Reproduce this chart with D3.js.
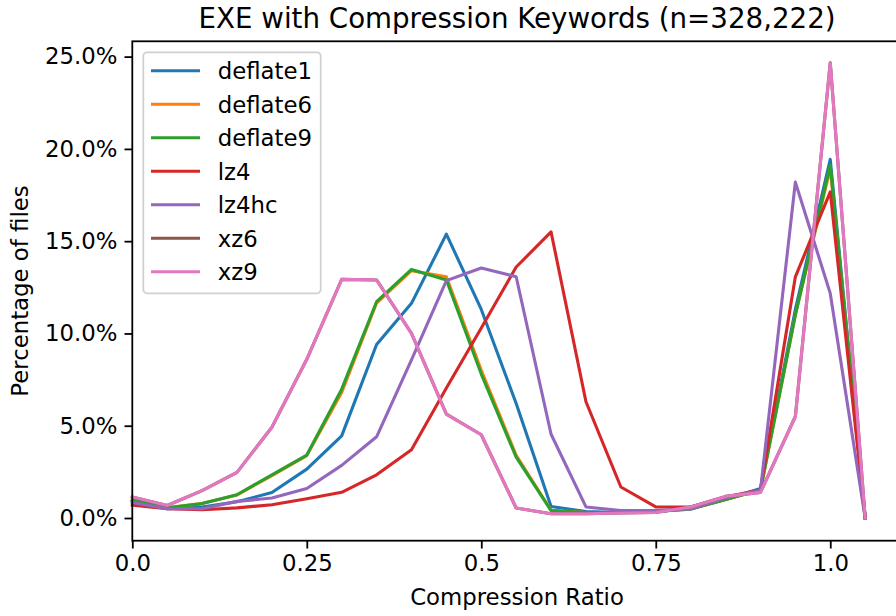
<!DOCTYPE html>
<html>
<head>
<meta charset="utf-8">
<script src="https://cdn.jsdelivr.net/npm/d3@7"></script>
<style>
  html, body { margin: 0; padding: 0; background: #fff; overflow: hidden; }
  svg { display: block; font-family: "DejaVu Sans", sans-serif; }
</style>
</head>
<body>
<svg id="chart" width="896" height="616"></svg>
<script>
// Compression ratio bins (0.00 .. 1.05, step 0.05)
const ratios = [0, 0.05, 0.1, 0.15, 0.2, 0.25, 0.3, 0.35, 0.4, 0.45, 0.5,
                0.55, 0.6, 0.65, 0.7, 0.75, 0.8, 0.85, 0.9, 0.95, 1.0, 1.05];

// Percentage of files per bin, one array per codec
const deflate1 = [0.92, 0.5, 0.6, 0.88, 1.38, 2.65, 4.45, 9.4, 11.63, 15.38, 11.3,
                  6.2, 0.62, 0.35, 0.3, 0.35, 0.48, 1.0, 1.6, 11.3, 19.43, 0];
const deflate6 = [0.97, 0.55, 0.78, 1.25, 2.3, 3.38, 6.8, 11.65, 13.4, 13.07, 8.0,
                  3.4, 0.42, 0.3, 0.3, 0.35, 0.5, 1.0, 1.52, 11.0, 18.95, 0];
const deflate9 = [0.99, 0.55, 0.78, 1.26, 2.34, 3.41, 6.98, 11.72, 13.47, 12.9, 7.8,
                  3.3, 0.4, 0.3, 0.3, 0.35, 0.5, 1.0, 1.52, 11.0, 19.12, 0];
const lz4      = [0.7, 0.5, 0.45, 0.55, 0.72, 1.04, 1.39, 2.34, 3.7, 7.05, 10.3,
                  13.6, 15.5, 6.3, 1.68, 0.6, 0.6, 1.14, 1.53, 13.07, 17.67, 0];
const lz4hc    = [0.84, 0.5, 0.5, 0.9, 1.08, 1.6, 2.85, 4.4, 8.57, 12.86, 13.55,
                  13.07, 4.54, 0.6, 0.41, 0.4, 0.5, 1.1, 1.5, 18.2, 12.17, 0];
const xz6      = [1.14, 0.68, 1.48, 2.47, 4.92, 8.6, 12.93, 12.9, 10.0, 5.63, 4.51,
                  0.54, 0.23, 0.23, 0.27, 0.3, 0.6, 1.17, 1.39, 5.5, 24.67, 0];
const xz9      = [1.14, 0.68, 1.48, 2.47, 4.92, 8.6, 12.93, 12.9, 10.0, 5.63, 4.51,
                  0.54, 0.23, 0.23, 0.27, 0.3, 0.6, 1.17, 1.39, 5.5, 24.67, 0];

const seriesNames = ["deflate1", "deflate6", "deflate9", "lz4", "lz4hc", "xz6", "xz9"];
const seriesValues = [deflate1, deflate6, deflate9, lz4, lz4hc, xz6, xz9];
const colors = ["#1f77b4", "#ff7f0e", "#2ca02c", "#d62728", "#9467bd", "#8c564b", "#e377c2"];

const xTicks = [0, 0.25, 0.5, 0.75, 1.0];
const xTickLabels = ["0.0", "0.25", "0.5", "0.75", "1.0"];
const yTicks = [0, 5, 10, 15, 20, 25];

const titleText = "EXE with Compression Keywords (n=328,222)";
const xLabel = "Compression Ratio";
const yLabel = "Percentage of files";

// Layout
const plot = { left: 132.3, top: 41.3, right: 901.8, bottom: 540.7 };
const fontSize = "22.8px";
const svg = d3.select("#chart");

const x = d3.scaleLinear().domain([0, 1.1025]).range([plot.left, plot.right]);
const y = d3.scaleLinear().domain([-1.23, 25.83]).range([plot.bottom, plot.top]);

// Series lines
const line = d3.line()
  .x((d, i) => x(ratios[i]))
  .y(d => y(d));

const linesG = svg.append("g");
seriesValues.forEach((vals, k) => {
  linesG.append("path")
    .datum(vals)
    .attr("d", line)
    .attr("fill", "none")
    .attr("stroke", colors[k])
    .attr("stroke-width", 3.1)
    .attr("stroke-linejoin", "round")
    .attr("stroke-linecap", "square");
});

// Axes
const xAxis = d3.axisBottom(x)
  .tickValues(xTicks)
  .tickFormat((d, i) => xTickLabels[i])
  .tickSize(7.8)
  .tickPadding(6);
const yAxis = d3.axisLeft(y)
  .tickValues(yTicks)
  .tickFormat(d => d3.format(".1f")(d) + "%")
  .tickSize(7.8)
  .tickPadding(7);

const gx = svg.append("g")
  .attr("transform", `translate(0,${plot.bottom})`)
  .call(xAxis);
const gy = svg.append("g")
  .attr("transform", `translate(${plot.left},0)`)
  .call(yAxis);

[gx, gy].forEach(g => {
  g.select(".domain").remove();
  g.selectAll(".tick line").attr("stroke", "#000").attr("stroke-width", 1.8);
  g.selectAll(".tick text")
    .attr("fill", "#000")
    .style("font-family", "'DejaVu Sans', sans-serif")
    .style("font-size", fontSize);
});
gx.selectAll(".tick text").attr("dy", "0.71em");

// Spines
const spines = svg.append("g")
  .attr("stroke", "#000")
  .attr("stroke-width", 1.8)
  .attr("fill", "none");
spines.append("rect")
  .attr("x", plot.left)
  .attr("y", plot.top)
  .attr("width", plot.right - plot.left)
  .attr("height", plot.bottom - plot.top);

// Title and axis labels
svg.append("text")
  .attr("x", (plot.left + plot.right) / 2)
  .attr("y", 27.5)
  .attr("text-anchor", "middle")
  .style("font-size", "27.7px")
  .attr("fill", "#000")
  .text(titleText);

svg.append("text")
  .attr("x", (plot.left + plot.right) / 2)
  .attr("y", 605)
  .attr("text-anchor", "middle")
  .style("font-size", fontSize)
  .attr("fill", "#000")
  .text(xLabel);

svg.append("text")
  .attr("transform", `translate(28.3,${(plot.top + plot.bottom) / 2}) rotate(-90)`)
  .attr("text-anchor", "middle")
  .style("font-size", fontSize)
  .attr("fill", "#000")
  .text(yLabel);

// Legend
const legend = svg.append("g");
legend.append("rect")
  .attr("x", 143.3)
  .attr("y", 52.3)
  .attr("width", 177.4)
  .attr("height", 241)
  .attr("rx", 4)
  .attr("fill", "#fff")
  .attr("fill-opacity", 0.8)
  .attr("stroke", "#d0d0d0")
  .attr("stroke-width", 1.8);

const legendRow = d3.scaleLinear().domain([0, 6]).range([70.7, 271.7]);
seriesNames.forEach((name, k) => {
  const ly = legendRow(k);
  legend.append("line")
    .attr("x1", 151).attr("x2", 200)
    .attr("y1", ly).attr("y2", ly)
    .attr("stroke", colors[k])
    .attr("stroke-width", 3.1);
  legend.append("text")
    .attr("x", 217.7)
    .attr("y", ly + 8.4)
    .style("font-size", fontSize)
    .attr("fill", "#000")
    .text(name);
});
</script>
</body>
</html>
